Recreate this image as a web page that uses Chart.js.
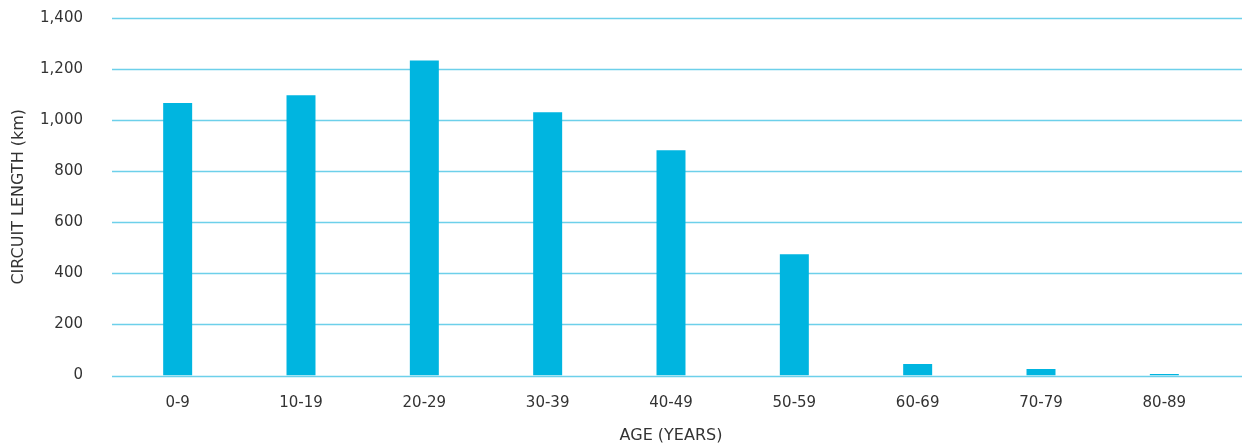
<!DOCTYPE html>
<html>
<head>
<meta charset="utf-8">
<script src="https://cdn.jsdelivr.net/npm/chart.js@4/dist/chart.umd.min.js"></script>
<style>
  html, body { margin: 0; padding: 0; background: #ffffff; }
  #wrap { width: 1242px; height: 447px; position: relative; }
</style>
</head>
<body>
<div id="wrap"><canvas id="c" width="1242" height="447"></canvas></div>
<script>
// Circuit length by age band
const ageBands = ['0-9', '10-19', '20-29', '30-39', '40-49', '50-59', '60-69', '70-79', '80-89'];
const circuitKm = [1067, 1097, 1234, 1031, 882, 475, 45, 25, 6];
const yTicks = [0, 200, 400, 600, 800, 1000, 1200, 1400];

const BAR = '#00b5e0';
const GRID = '#6dd0ea';
const TEXT = '#333333';
const FONT = "'DejaVu Sans', 'Open Sans', sans-serif";

// Horizontal grid lines spanning slightly past the plot area on both sides
const wideGrid = {
  id: 'wideGrid',
  beforeDatasetsDraw(chart) {
    const { ctx, scales: { y } } = chart;
    ctx.save();
    ctx.strokeStyle = GRID;
    ctx.lineWidth = 1.4;
    yTicks.forEach(v => {
      const py = Math.round(y.getPixelForValue(v)) + 0.5;
      ctx.beginPath();
      ctx.moveTo(112, py);
      ctx.lineTo(chart.width, py);
      ctx.stroke();
    });
    ctx.restore();
  }
};

new Chart(document.getElementById('c'), {
  type: 'bar',
  data: {
    labels: ageBands,
    datasets: [{
      data: circuitKm,
      backgroundColor: BAR,
      borderWidth: 0,
      categoryPercentage: 1,
      barPercentage: 0.235
    }]
  },
  options: {
    responsive: false,
    animation: false,
    layout: { padding: { top: 18, right: 16, left: 0, bottom: 0 } },
    plugins: { legend: { display: false }, tooltip: { enabled: false } },
    scales: {
      x: {
        afterFit(scale) { scale.height = 71.5; },
        grid: { display: false, drawTicks: true, tickLength: 19 },
        border: { display: false },
        ticks: { color: TEXT, font: { family: FONT, size: 15 }, padding: 0, maxRotation: 0 },
        title: { display: true, text: 'AGE (YEARS)', color: TEXT, font: { family: FONT, size: 16 }, padding: { top: 4, bottom: 2 } }
      },
      y: {
        min: 0,
        max: 1400,
        afterBuildTicks(scale) { scale.ticks = yTicks.map(v => ({ value: v })); },
        afterFit(scale) { scale.width = 116; },
        grid: { display: false, drawTicks: true, tickLength: 25 },
        border: { display: false },
        ticks: {
          color: TEXT,
          font: { family: FONT, size: 15 },
          padding: 8,
          callback: v => v.toLocaleString('en-US')
        },
        title: { display: true, text: 'CIRCUIT LENGTH (km)', color: TEXT, font: { family: FONT, size: 16 }, padding: { top: 9, bottom: 0 } }
      }
    }
  },
  plugins: [wideGrid]
});
</script>
</body>
</html>
